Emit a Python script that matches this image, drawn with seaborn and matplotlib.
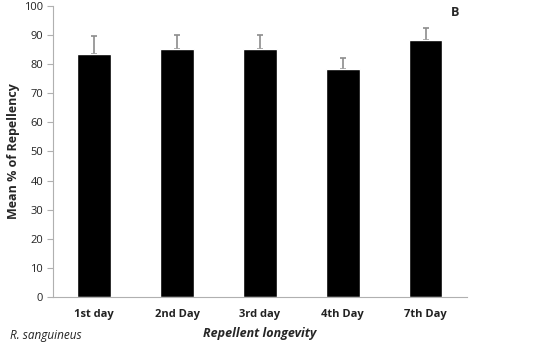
import matplotlib
matplotlib.use("Agg")
import matplotlib.pyplot as plt
import seaborn as sns
import pandas as pd
import numpy as np

categories = ["1st day", "2nd Day", "3rd day", "4th Day", "7th Day"]
means = [83.4, 85.1, 85.1, 78.4, 88.2]
errors = [6.2, 4.9, 4.9, 3.6, 4.1]
yticks = [0, 10, 20, 30, 40, 50, 60, 70, 80, 90, 100]

sns.set_theme(style="white")
plt.rcParams['font.family'] = ['Open Sans', 'DejaVu Sans']

df = pd.DataFrame({"day": categories, "mean": means})

fig = plt.figure(figsize=(5.33, 3.48), dpi=100)
ax = fig.add_axes([0.0994, 0.1466, 0.7766, 0.8362])

sns.barplot(data=df, x="day", y="mean", color="black", width=0.41,
            errorbar=None, ax=ax, saturation=1, zorder=3)
pos = np.arange(len(categories))
ax.errorbar(pos, means, yerr=[np.zeros(len(errors)), errors], fmt="none",
            ecolor="#8c8c8c", elinewidth=1.2, capsize=2, capthick=1.2, zorder=2)

ax.set_xlim(-0.5, len(categories) - 0.5)
ax.set_ylim(0, 100)
ax.set_yticks(yticks)
ax.set_yticklabels([str(v) for v in yticks], fontsize=8, color="#222222")
ax.set_xticks(pos)
ax.set_xticklabels(categories, fontsize=8, fontweight="bold", color="#222222")
ax.set_xticks(np.arange(-0.5, len(categories)), minor=True)
ax.tick_params(axis="x", which="major", length=0, pad=9)
ax.tick_params(axis="x", which="minor", length=4, color="#b0b0b0", width=0.8, direction="out")
ax.tick_params(axis="y", length=4, color="#b0b0b0", width=0.8, direction="out", left=True, pad=3)

for s in ["top", "right"]:
    ax.spines[s].set_visible(False)
for s in ["left", "bottom"]:
    ax.spines[s].set_color("#b0b0b0")
    ax.spines[s].set_linewidth(0.8)
    ax.spines[s].set_zorder(4)

ax.set_xlabel("Repellent longevity", fontsize=9, fontweight="bold", style="italic", labelpad=5)
ax.set_ylabel("Mean % of Repellency", fontsize=9, fontweight="bold", labelpad=3)

fig.text(455 / 533, 1 - 13 / 348, "B", fontsize=9, fontweight="bold", ha="center", va="center")
fig.text(10 / 533, 1 - 336 / 348, "R. sanguineus", fontsize=8.5, style="italic", ha="left", va="center", color="#222222")

fig.savefig("out.png", dpi=100)
